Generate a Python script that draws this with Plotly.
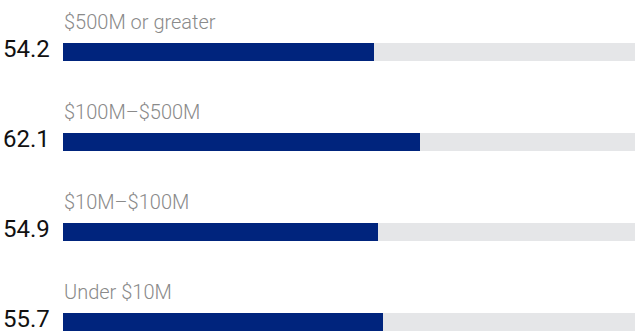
import plotly.graph_objects as go

# Revenue bands and their scores
categories = ["$500M or greater", "$100M\u2013$500M", "$10M\u2013$100M", "Under $10M"]
values = [54.2, 62.1, 54.9, 55.7]
track_max = 100

navy = "#00247d"
track = "#e5e6e8"

pos = list(range(len(categories)))

fig = go.Figure()
# Full-length grey track behind each bar
fig.add_trace(go.Bar(
    x=[track_max] * len(categories), y=pos, orientation="h",
    marker=dict(color=track, line=dict(width=0)), width=0.2,
    hoverinfo="skip", showlegend=False,
))
# Value bars
fig.add_trace(go.Bar(
    x=values, y=pos, orientation="h",
    marker=dict(color=navy, line=dict(width=0)), width=0.2,
    hovertext=categories, showlegend=False,
))

for p, cat, v in zip(pos, categories, values):
    # band label above the bar
    fig.add_annotation(
        x=0, y=p, text=cat, showarrow=False, xanchor="left", yanchor="bottom",
        yshift=16, xshift=-1,
        font=dict(family="Roboto", size=20, color="#8a8a8a", weight=300),
    )
    # numeric value left of the bar
    fig.add_annotation(
        x=0, y=p, text=f"{v}", showarrow=False, xanchor="right", yanchor="middle",
        xshift=-11, yshift=3,
        font=dict(family="Roboto", size=24, color="#111111"),
    )

fig.update_layout(
    width=635, height=335,
    margin=dict(l=63, r=0, t=0, b=0),
    paper_bgcolor="white", plot_bgcolor="white",
    barmode="overlay", bargap=0,
    xaxis=dict(range=[0, 572 / 5.745], visible=False, fixedrange=True),
    yaxis=dict(range=[3.144, -0.578], visible=False, fixedrange=True),
)

fig.write_html("out.html")
